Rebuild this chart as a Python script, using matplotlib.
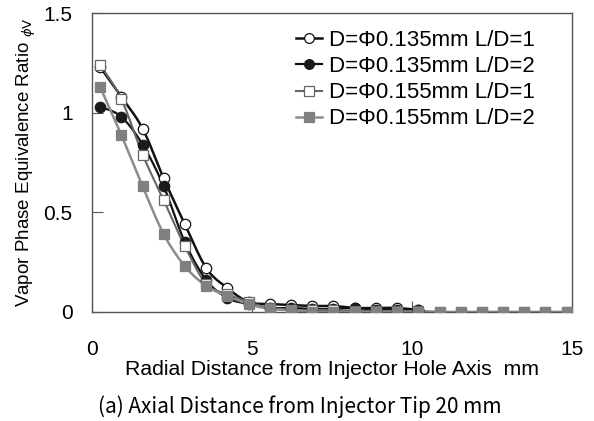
import matplotlib
matplotlib.use("Agg")
import matplotlib.pyplot as plt
import numpy as np

# radial positions (mm)
x = [0.25, 0.91, 1.58, 2.24, 2.90, 3.57, 4.23, 4.89, 5.55, 6.22, 6.88, 7.54,
     8.21, 8.87, 9.53, 10.20, 10.86, 11.52, 12.18, 12.85, 13.51, 14.17, 14.84]

# D=0.135mm L/D=1 (open circle)
phi_135_1 = [1.23, 1.08, 0.92, 0.67, 0.44, 0.22, 0.12, 0.05, 0.04, 0.035, 0.03,
             0.03, 0.02, 0.02, 0.02, 0.01]
# D=0.135mm L/D=2 (filled circle)
phi_135_2 = [1.03, 0.98, 0.84, 0.63, 0.35, 0.16, 0.07, 0.04, 0.02, 0.02, 0.015,
             0.015, 0.02, 0.01, 0.01, 0.01]
# D=0.155mm L/D=1 (open square)
phi_155_1 = [1.24, 1.07, 0.79, 0.56, 0.33, 0.14, 0.09, 0.05, 0.02, 0.01, 0.01,
             0.01, 0.005, 0.005, 0.005, 0.005, 0.0, 0.0, 0.0, 0.0, 0.0, 0.0, 0.0]
# D=0.155mm L/D=2 (filled square)
phi_155_2 = [1.13, 0.89, 0.63, 0.39, 0.23, 0.13, 0.08, 0.04, 0.015, 0.01, 0.0,
             0.0, 0.0, 0.0, 0.0, 0.0, 0.0, 0.0, 0.0, 0.0, 0.0, 0.0, 0.0]

labels = ["D=Φ0.135mm L/D=1", "D=Φ0.135mm L/D=2",
          "D=Φ0.155mm L/D=1", "D=Φ0.155mm L/D=2"]


def smooth(xs, ys, n=12):
    # catmull-rom style smoothing like the spreadsheet "smoothed line"
    xs = np.asarray(xs, float)
    ys = np.asarray(ys, float)
    px = np.concatenate([[xs[0]], xs, [xs[-1]]])
    py = np.concatenate([[ys[0]], ys, [ys[-1]]])
    ox, oy = [], []
    t = np.linspace(0, 1, n, endpoint=False)
    for i in range(1, len(px) - 2):
        p0, p1, p2, p3 = px[i-1], px[i], px[i+1], px[i+2]
        q0, q1, q2, q3 = py[i-1], py[i], py[i+1], py[i+2]
        for a, b, c, d, out in ((p0, p1, p2, p3, ox), (q0, q1, q2, q3, oy)):
            v = 0.5 * ((2*b) + (-a + c)*t + (2*a - 5*b + 4*c - d)*t**2
                       + (-a + 3*b - 3*c + d)*t**3)
            out.extend(v)
    ox.append(xs[-1])
    oy.append(ys[-1])
    return np.array(ox), np.array(oy)


plt.rcParams['font.family'] = ['Liberation Sans', 'DejaVu Sans']

fig = plt.figure(figsize=(5.94, 4.21), dpi=100)
ax = fig.add_axes([0.155, 0.259, 0.808, 0.71])

styles = [
    (phi_135_1, '#111111', 'o', 'white', '#111111', 1.8),
    (phi_135_2, '#111111', 'o', '#1a1a1a', '#1a1a1a', 1.6),
    (phi_155_1, '#666666', 's', 'white', '#666666', 1.5),
    (phi_155_2, '#8c8c8c', 's', '#808080', '#808080', 1.8),
]
order = [3, 2, 1, 0]
handles = [None] * 4
for k in order:
    ys, lc, mk, fc, ec, lw = styles[k]
    xs = x[:len(ys)]
    sx, sy = smooth(xs, ys)
    ax.plot(sx, sy, color=lc, lw=lw, zorder=2 + k * 0.1)
    ax.plot(xs, ys, ls='none', marker=mk, mfc=fc, mec=ec, ms=7.5, mew=0.9,
            zorder=3 + k * 0.1)
    handles[k] = ax.plot([], [], color=lc, lw=lw, marker=mk, mfc=fc, mec=ec,
                         ms=7, mew=0.9)[0]

ax.set_xlim(0, 15)
ax.set_ylim(0, 1.5)
ax.set_xticks([0, 5, 10, 15])
ax.set_yticks([0, 0.5, 1, 1.5])
ax.set_xticklabels(['0', '5', '10', '15'])
ax.set_yticklabels(['0', '0.5', '1', '1.5'])
ax.tick_params(direction='in', length=8, width=0.8, color='#555555',
               labelsize=15)
ax.tick_params(axis='x', pad=20)
ax.tick_params(axis='y', pad=14)
for s in ax.spines.values():
    s.set_color('#555555')
    s.set_linewidth(1.0)

ax.set_xlabel('Radial Distance from Injector Hole Axis  mm', fontsize=15.3,
              labelpad=1)
ax.set_ylabel(r'Vapor Phase Equivalence Ratio $_{\phi \mathrm{V}}$',
              fontsize=13.5, labelpad=4)

ax.legend(handles, labels, loc='upper right', frameon=False, fontsize=16,
          handlelength=1.2, handletextpad=0.3, labelspacing=0.23,
          borderaxespad=0.3, bbox_to_anchor=(0.955, 0.995))

fig.text(0.505, 0.018, '(a) Axial Distance from Injector Tip 20 mm',
         ha='center', va='baseline', fontsize=15,
         family=['Noto Sans CJK JP', 'DejaVu Sans'])

fig.savefig('out.png', dpi=100)
